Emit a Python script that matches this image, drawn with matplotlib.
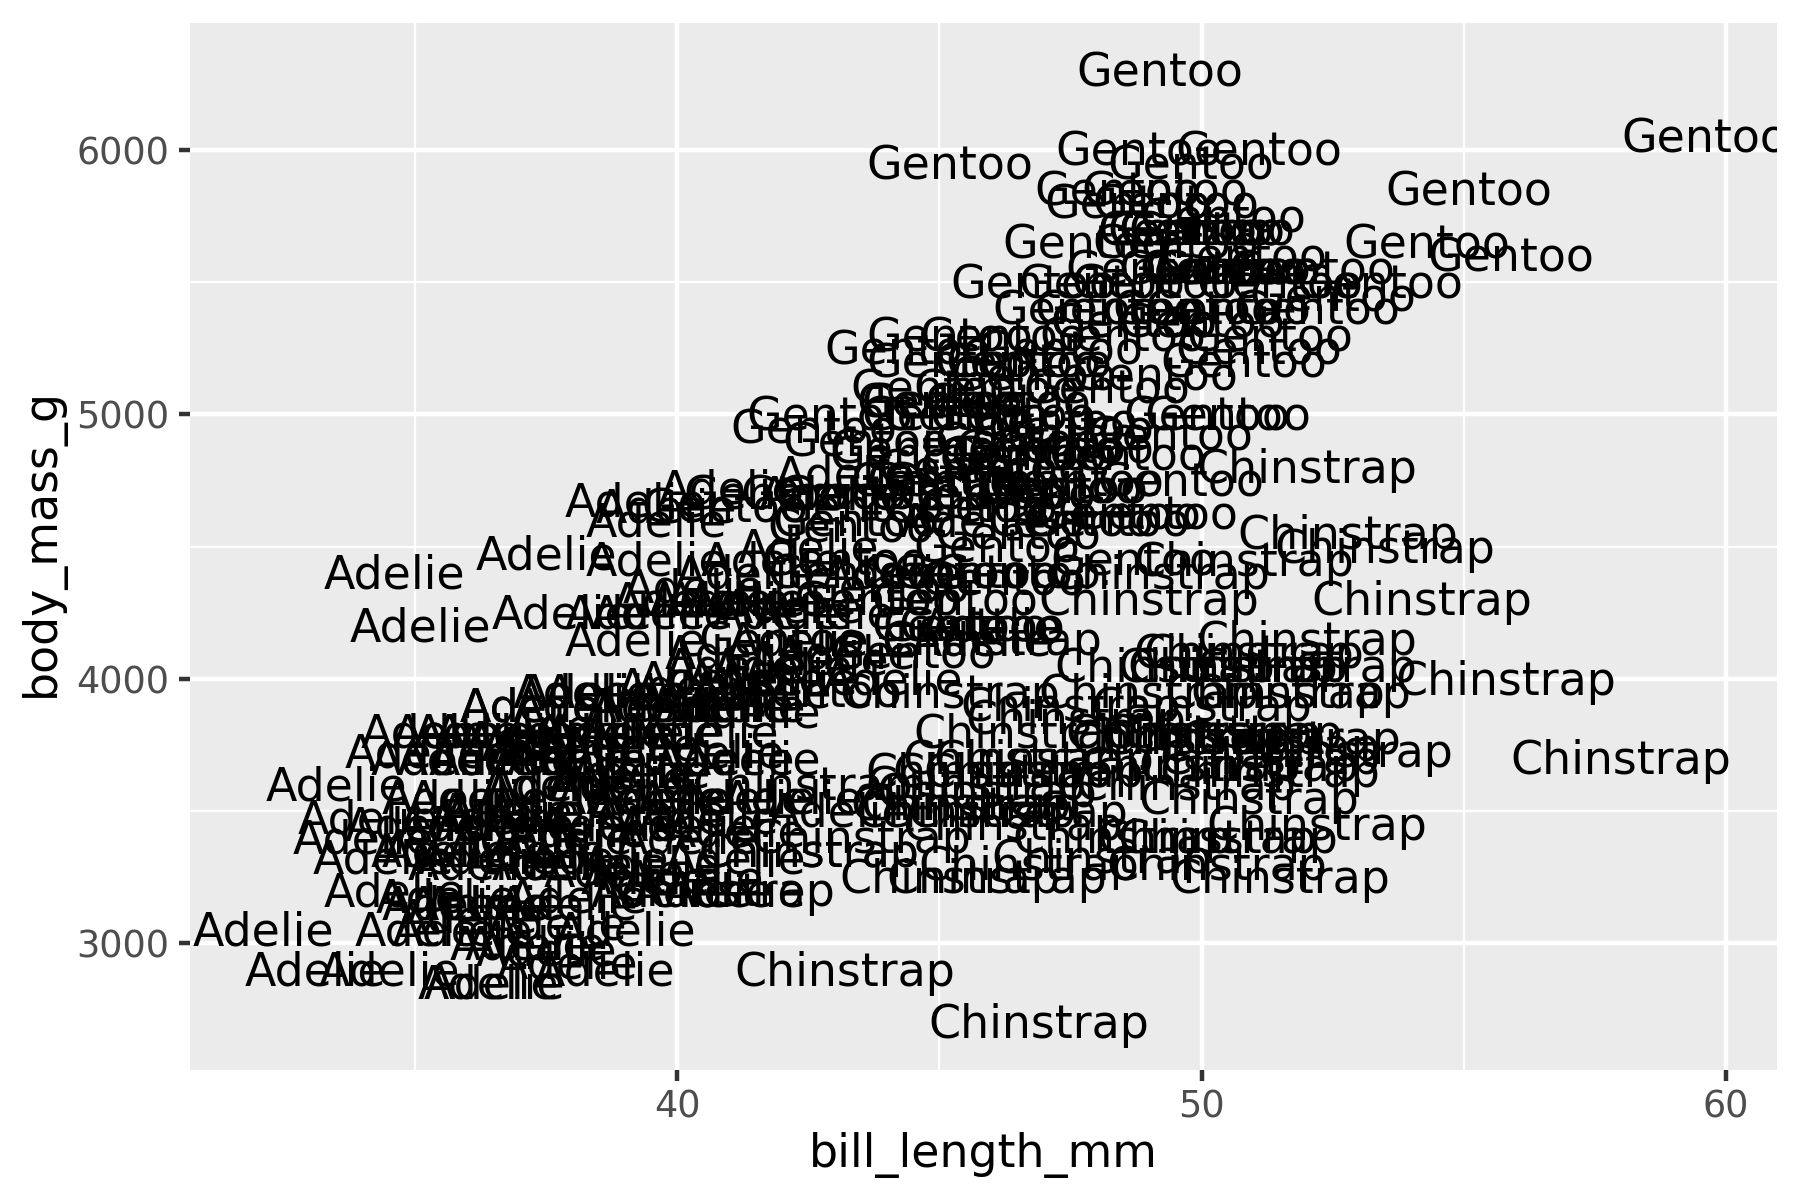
# penguins, species name as text label at each (bill length, body mass)

import matplotlib
matplotlib.use('Agg')
import matplotlib.pyplot as plt
from matplotlib.transforms import offset_copy

adelie_bill = [39.1, 39.5, 40.3, 36.7, 39.3, 38.9, 39.2, 34.1, 42.0, 37.8, 37.8, 41.1, 38.6, 34.6, 36.6, 38.7, 42.5, 34.4, 46.0,
               37.8, 37.7, 35.9, 38.2, 38.8, 35.3, 40.6, 40.5, 37.9, 40.5,
               39.5, 37.2, 39.5, 40.9, 36.4, 39.2, 38.8, 42.2, 37.6, 39.8, 36.5, 40.8, 36.0, 44.1, 37.0, 39.6, 41.1, 37.5, 36.0, 42.3,
               39.6, 40.1, 35.0, 42.0, 34.5, 41.4, 39.0, 40.6, 36.5, 37.6, 35.7, 41.3, 37.6, 41.1, 36.4, 41.6, 35.5, 41.1,
               35.9, 41.8, 33.5, 39.7, 39.6, 45.8, 35.5, 42.8, 40.9, 37.2, 36.2, 42.1, 34.6, 42.9, 36.7, 35.1,
               37.3, 41.3, 36.3, 36.9, 38.3, 38.9, 35.7, 41.1, 34.0, 39.6, 36.2, 40.8, 38.1, 40.3, 33.1, 43.2,
               35.0, 41.0, 37.7, 37.8, 37.9, 39.7, 38.6, 38.2, 38.1, 43.2, 38.1, 45.6, 39.7, 42.2, 39.6, 42.7,
               38.6, 37.3, 35.7, 41.1, 36.2, 37.7, 40.2, 41.4, 35.2, 40.6, 38.8, 41.5, 39.0, 44.1, 38.5, 43.1,
               36.8, 37.5, 38.1, 41.1, 35.6, 40.2, 37.0, 39.7, 40.2, 40.6, 32.1, 40.7, 37.3, 39.0, 39.2, 36.6, 36.0, 37.8, 36.0, 41.5]
adelie_mass = [3750, 3800, 3250, 3450, 3650, 3625, 4675, 3475, 4250, 3300, 3700, 3200, 3800, 4400, 3700, 3450, 4500, 3325, 4200,
               3400, 3600, 3800, 3950, 3800, 3800, 3550, 3200, 3150, 3950,
               3250, 3900, 3300, 3900, 3325, 4150, 3950, 3550, 3300, 4650, 3150, 3900, 3100, 4400, 3000, 4600, 3425, 2975, 3450, 4150,
               3500, 4300, 3450, 4050, 2900, 3700, 3550, 3800, 2850, 3750, 3150, 4400, 3600, 4050, 2850, 3950, 3350, 4100,
               3050, 4450, 3600, 3900, 3550, 4150, 3700, 4250, 3700, 3900, 3550, 4000, 3200, 4700, 3800, 4200,
               3350, 3550, 3800, 3500, 3950, 3600, 3550, 4300, 3400, 4450, 3300, 4300, 3700, 4350, 2900, 4100,
               3725, 4725, 3075, 4250, 2925, 3550, 3750, 3900, 3175, 4775, 3825, 4600, 3200, 4275, 3900, 4075,
               2900, 3775, 3350, 3325, 3150, 3500, 3450, 3875, 3050, 4000, 3275, 4300, 3050, 4000, 3325, 3500,
               3500, 4475, 3425, 3900, 3175, 3975, 3400, 4250, 3400, 3475, 3050, 3725, 3000, 3650, 4250, 3475, 3450, 3750, 3700, 4000]

gentoo_bill = [46.1, 50.0, 48.7, 50.0, 47.6, 46.5, 45.4, 46.7, 43.3, 46.8, 40.9, 49.0, 45.5, 48.4, 45.8, 49.3, 42.0, 49.2, 46.2, 48.7,
               50.2, 45.1, 46.5, 46.3, 42.9, 46.1, 44.5, 47.8, 48.2, 50.0, 47.3, 42.8, 45.1, 59.6, 49.1, 48.4, 42.6, 44.4, 44.0, 48.7,
               42.7, 49.6, 45.3, 49.6, 50.5, 43.6, 45.5, 50.5, 44.9, 45.2, 46.6, 48.5, 45.1, 50.1, 46.5, 45.0, 43.8, 45.5, 43.2, 50.4,
               45.3, 46.2, 45.7, 54.3, 45.8, 49.8, 46.2, 49.5, 43.5, 50.7, 47.7, 46.4, 48.2, 46.5, 46.4, 48.6, 47.5, 51.1, 45.2, 45.2,
               49.1, 52.5, 47.4, 50.0, 44.9, 50.8, 43.4, 51.3, 47.5, 52.1, 47.5, 52.2, 45.5, 49.5, 44.5, 50.8, 49.4, 46.9, 48.4, 51.1,
               48.5, 55.9, 47.2, 49.1, 47.3, 46.8, 41.7, 53.4, 43.3, 48.1, 50.5, 49.8, 43.5, 51.5, 46.2, 55.1, 44.5, 48.8, 47.2, 46.8,
               50.4, 45.2, 49.9]
gentoo_mass = [4500, 5700, 4450, 5700, 5400, 4550, 4800, 5200, 4400, 5150, 4650, 5550, 4650, 5850, 4200, 5850, 4150, 6300, 4800, 5350,
               5700, 5000, 4400, 5050, 5000, 5100, 4100, 5650, 4600, 5550, 5250, 4700, 5050, 6050, 5150, 5400, 4950, 5250, 4350, 5350,
               3950, 5700, 4300, 4750, 5550, 4900, 4200, 5400, 5100, 5300, 4850, 5300, 4400, 5000, 4900, 5050, 4300, 5000, 4450, 5550,
               4200, 5300, 4400, 5650, 4700, 5700, 4650, 5800, 4700, 5550, 4750, 5000, 5100, 5200, 4700, 5800, 4600, 6000, 4750, 5950,
               4625, 5450, 4725, 5350, 4750, 5600, 4600, 5300, 4875, 5550, 4950, 5400, 4750, 5650, 4850, 5200, 4925, 4875, 4625, 5250,
               4850, 5600, 4975, 5500, 4725, 5500, 4700, 5500, 4575, 5500, 5000, 5950, 4650, 5500, 4375, 5850, 4875, 6000, 4925, 4850,
               5750, 5200, 5400]

chinstrap_bill = [46.5, 50.0, 51.3, 45.4, 52.7, 45.2, 46.1, 51.3, 46.0, 51.3, 46.6, 51.7, 47.0, 52.0, 45.9, 50.5, 50.3, 58.0, 46.4, 49.2,
                  42.4, 48.5, 43.2, 50.6, 46.7, 52.0, 50.5, 49.5, 46.4, 52.8, 40.9, 54.2, 42.5, 51.0, 49.7, 47.5, 47.6, 52.0, 46.9, 53.5,
                  49.0, 46.2, 50.9, 45.5, 50.9, 50.8, 50.1, 49.0, 51.5, 49.8, 48.1, 51.4, 45.7, 50.7, 42.5, 52.2, 45.2, 49.3, 50.2, 45.6,
                  51.9, 46.8, 45.7, 55.8, 43.5, 49.6, 50.8, 50.2]
chinstrap_mass = [3500, 3900, 3650, 3525, 3725, 3950, 3250, 3750, 4150, 3700, 3800, 3775, 3700, 4050, 3575, 4050, 3300, 3700, 3450, 4400,
                  3600, 3400, 2900, 3800, 3300, 4150, 3400, 3800, 3700, 4550, 3200, 4300, 3350, 4100, 3600, 3900, 3850, 4800, 2700, 4500,
                  3950, 3650, 3550, 3500, 3675, 4450, 3400, 4300, 3250, 3675, 3325, 3950, 3600, 4050, 3350, 3450, 3250, 4050, 3800, 3525,
                  3950, 3650, 3650, 4000, 3400, 3775, 4100, 3775]

x_ticks = [40, 50, 60]
x_minor = [35, 45, 55]
y_ticks = [3000, 4000, 5000, 6000]
y_minor = [3500, 4500, 5500]

plt.rcParams['font.family'] = ['DejaVu Sans']

fig = plt.figure(figsize=(6, 4), dpi=300)
ax = fig.add_axes([190 / 1800, 1 - 1070 / 1200, (1777 - 190) / 1800, (1070 - 23) / 1200])
ax.set_facecolor('#EBEBEB')
for s in ax.spines.values():
    s.set_visible(False)

# grid like theme_gray
ax.set_xticks(x_ticks)
ax.set_yticks(y_ticks)
ax.set_xticks(x_minor, minor=True)
ax.set_yticks(y_minor, minor=True)
ax.grid(True, which='major', color='white', linewidth=1.07)
ax.grid(True, which='minor', color='white', linewidth=0.53)
ax.set_axisbelow(True)
ax.tick_params(which='major', length=2.75, width=1.07, color='#333333',
               labelcolor='#4D4D4D', labelsize=8.8, pad=2.2)
ax.tick_params(axis='x', which='major', pad=1.65)
ax.tick_params(which='minor', length=0)

ax.set_xlim(30.7, 60.98)
ax.set_ylim(2520, 6480)

# small nudge up, center_baseline sits a bit low
label_tf = offset_copy(ax.transData, fig=fig, y=0.35, units='points')
for bill, mass, name in [(adelie_bill, adelie_mass, 'Adelie'),
                         (gentoo_bill, gentoo_mass, 'Gentoo'),
                         (chinstrap_bill, chinstrap_mass, 'Chinstrap')]:
    for x, y in zip(bill, mass):
        ax.text(x, y, name, fontsize=11, color='black', ha='center', va='center_baseline',
                transform=label_tf, clip_on=True)

ax.set_xlabel('bill_length_mm', fontsize=11, labelpad=1.5)
ax.set_ylabel('body_mass_g', fontsize=11, labelpad=2.75, y=0.504)

fig.savefig('out.png', dpi=300)
